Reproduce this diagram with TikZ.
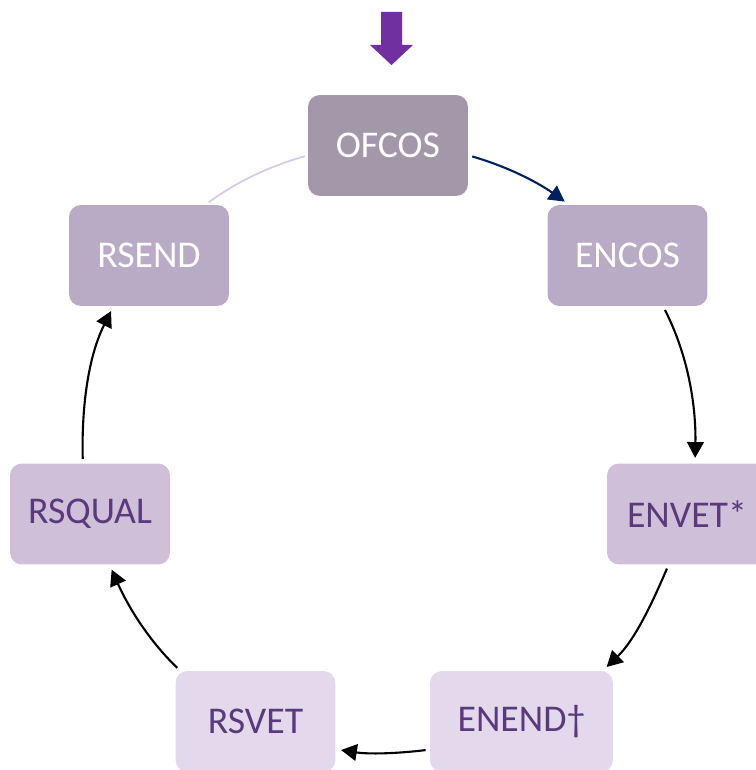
\documentclass[tikz,border=0pt]{standalone}
\usepackage{fontspec}
\setmainfont{Carlito}
\usetikzlibrary{arrows.meta}
\definecolor{topviolet}{HTML}{7030A0}
\definecolor{stageA}{HTML}{A397AA}
\definecolor{stageB}{HTML}{B9AAC5}
\definecolor{stageC}{HTML}{CFBFD9}
\definecolor{stageD}{HTML}{E4D8EC}
\definecolor{darkplum}{HTML}{5B3A7C}
\definecolor{navyline}{HTML}{002060}
\definecolor{paleline}{HTML}{D8CBE3}

\begin{document}
\begin{tikzpicture}[x=0.02cm,y=0.02cm,
    stage/.style={rectangle,rounded corners=6.8pt,minimum width=3.2cm,minimum height=2.02cm,inner sep=0pt,font=\fontsize{21.5}{25}\selectfont},
    link/.style={line width=1.2pt,-{Triangle[length=9pt,width=9.5pt]},shorten <=2.3pt,shorten >=3pt,looseness=0.9}]
  \useasboundingbox (0,0) rectangle (756,-770);

  %entry arrow
  \fill[topviolet] (381,-12) -- (402,-12) -- (402,-45) -- (413,-45) -- (391.5,-65) -- (370,-45) -- (381,-45) -- cycle;

  %stages round the cycle
  \node[stage,fill=stageA,text=white] (ofcos) at (388,-145.5) {OFCOS};
  \node[stage,fill=stageB,text=white] (encos) at (627.5,-255.5) {ENCOS};
  \node[stage,fill=stageC,text=darkplum] (envet) at (687,-514) {ENVET*};
  \node[stage,fill=stageD,text=darkplum,minimum width=3.66cm] (enend) at (521.5,-721.5) {ENEND†};
  \node[stage,fill=stageD,text=darkplum] (rsvet) at (255.5,-721.5) {RSVET};
  \node[stage,fill=stageC,text=darkplum] (rsqual) at (90,-514) {RSQUAL};
  \node[stage,fill=stageB,text=white] (rsend) at (149,-255.5) {RSEND};

  %links
  \draw[link,navyline] (ofcos.-7.5) to[out=-16,in=144.5] (encos.139);
  \draw[link] (encos.-55) to[out=-63,in=89] (envet.81);
  \draw[link] (envet.-110) to[out=-113,in=44] (enend.32);
  \draw[link] (enend.197) to[out=187,in=-9] (rsvet.-19);
  \draw[link] (rsvet.146) to[out=136,in=-66] (rsqual.-69);
  \draw[link] (rsqual.98) to[out=91.5,in=-116.6] (rsend.-125.5);
  \draw[paleline,line width=1pt,shorten <=2.3pt,shorten >=1.7pt,looseness=0.9] (rsend.42) to[out=36,in=196] (ofcos.187.5);
\end{tikzpicture}
\end{document}
